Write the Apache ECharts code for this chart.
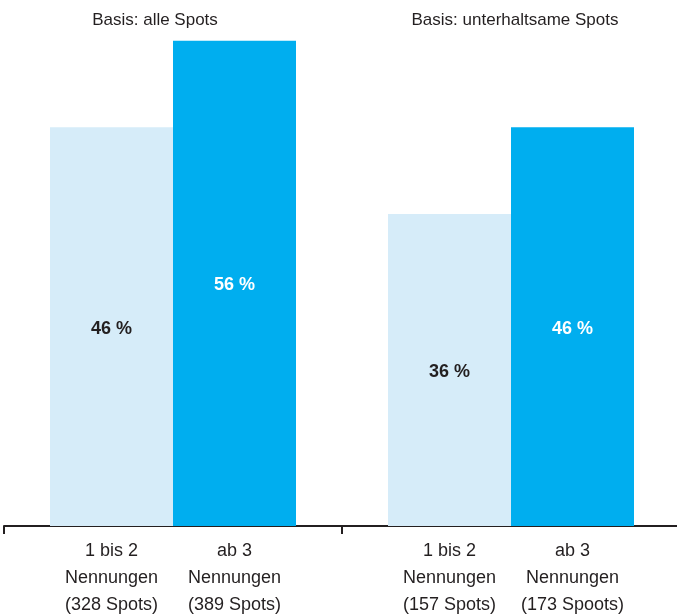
<!DOCTYPE html>
<html>
<head>
<meta charset="utf-8">
<script src="https://cdn.jsdelivr.net/npm/echarts@6/dist/echarts.min.js"></script>
<style>
  html, body { margin: 0; padding: 0; background: #ffffff; }
  #chart { width: 677px; height: 615px; }
</style>
</head>
<body>
<div id="chart"></div>
<script>
// Two groups (base sets), each with two bars: 1–2 mentions vs. 3+ mentions
const groups = ['Basis: alle Spots', 'Basis: unterhaltsame Spots'];
const lowMentions = [46, 36];   // 1 bis 2 Nennungen, in %
const highMentions = [56, 46];  // ab 3 Nennungen, in %
const lowLabels = [
  ['1 bis 2', 'Nennungen', '(328 Spots)'],
  ['1 bis 2', 'Nennungen', '(157 Spots)']
];
const highLabels = [
  ['ab 3', 'Nennungen', '(389 Spots)'],
  ['ab 3', 'Nennungen', '(173 Spoots)']
];

const FONT = '"Liberation Sans Narrow", "Arial Narrow", "Liberation Sans", Arial, sans-serif';
const INK = '#231f20';
const LIGHT = '#d6ecf9';
const DARK = '#00aeef';

const chart = echarts.init(document.getElementById('chart'), null, { renderer: 'canvas' });

chart.setOption({
  animation: false,
  backgroundColor: '#ffffff',
  grid: { left: 4, width: 676, top: 6, bottom: 89, outerBoundsMode: 'none', containLabel: false },
  xAxis: {
    type: 'category',
    data: groups,
    boundaryGap: true,
    axisLine: { show: true, lineStyle: { color: INK, width: 2 } },
    axisTick: { show: true, length: 8, lineStyle: { color: INK, width: 2 } },
    axisLabel: {
      margin: 12,
      formatter: function (value, idx) {
        const a = lowLabels[idx], b = highLabels[idx];
        return a.map((t, i) => '{a|' + t + '}{b|' + b[i] + '}').join('\n');
      },
      rich: {
        a: { width: 123, align: 'center', fontFamily: FONT, fontSize: 18, lineHeight: 27, color: INK },
        b: { width: 123, align: 'center', fontFamily: FONT, fontSize: 18, lineHeight: 27, color: INK }
      }
    }
  },
  yAxis: {
    type: 'value',
    min: 0,
    max: 60,
    show: false
  },
  series: [
    {
      name: '1 bis 2 Nennungen',
      type: 'bar',
      data: lowMentions,
      barWidth: 123,
      barGap: '0%',
      itemStyle: { color: LIGHT },
      label: {
        show: true,
        position: 'inside',
        offset: [0, 2],
        formatter: '{c} %',
        fontFamily: FONT,
        fontWeight: 'bold',
        fontSize: 18,
        color: INK
      }
    },
    {
      name: 'ab 3 Nennungen',
      type: 'bar',
      data: highMentions,
      barWidth: 123,
      barGap: '0%',
      itemStyle: { color: DARK },
      label: {
        show: true,
        position: 'inside',
        offset: [0, 2],
        formatter: '{c} %',
        fontFamily: FONT,
        fontWeight: 'bold',
        fontSize: 18,
        color: '#ffffff'
      }
    }
  ],
  graphic: [
    {
      type: 'text',
      x: 155,
      y: 20,
      style: { text: groups[0], font: '17px ' + FONT, fill: INK, align: 'center', verticalAlign: 'middle' }
    },
    {
      type: 'text',
      x: 515,
      y: 20,
      style: { text: groups[1], font: '17px ' + FONT, fill: INK, align: 'center', verticalAlign: 'middle' }
    }
  ]
});
</script>
</body>
</html>
